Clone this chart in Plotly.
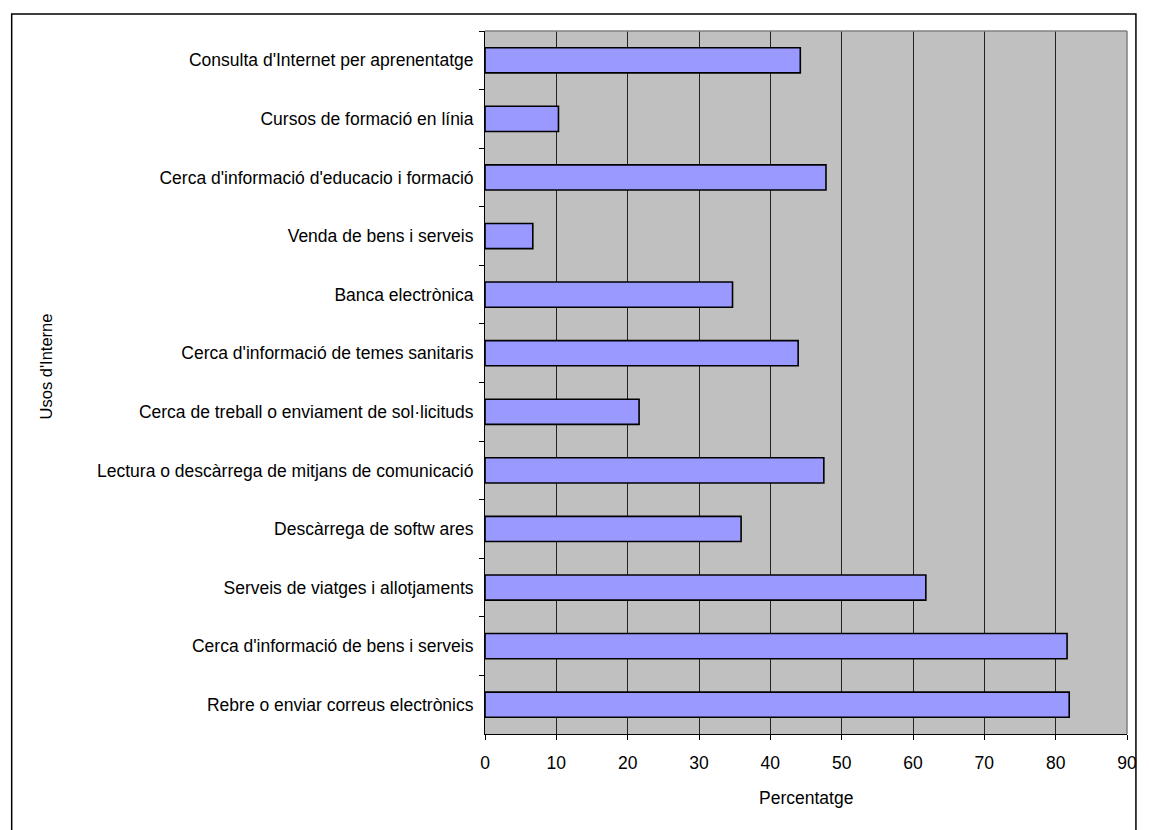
import plotly.graph_objects as go

# Usos d'Internet (percentatge), de dalt a baix
usos = [
    "Consulta d'Internet per aprenentatge",
    "Cursos de formació en línia",
    "Cerca d'informació d'educacio i formació",
    "Venda de bens i serveis",
    "Banca electrònica",
    "Cerca d'informació de temes sanitaris",
    "Cerca de treball o enviament de sol·licituds",
    "Lectura o descàrrega de mitjans de comunicació",
    "Descàrrega de softw ares",
    "Serveis de viatges i allotjaments",
    "Cerca d'informació de bens i serveis",
    "Rebre o enviar correus electrònics",
]
percentatge = [44.2, 10.3, 47.8, 6.7, 34.7, 43.9, 21.6, 47.5, 35.9, 61.8, 81.6, 81.9]
x_ticks = [0, 10, 20, 30, 40, 50, 60, 70, 80, 90]

W, H = 1149, 830
L, R, T, B = 485, 1132, 31, 734

FONT = "Liberation Sans, Arial, sans-serif"
FS = 17.5

fig = go.Figure(
    go.Bar(
        x=percentatge,
        y=usos,
        orientation="h",
        width=0.43,
        marker=dict(color="#9999FF", line=dict(color="#000000", width=1.6)),
        hoverinfo="x+y",
    )
)

def px_x(v):
    return (v - L) / (R - L)

def px_y(v):
    return (B - v) / (B - T)

fig.update_layout(
    width=W,
    height=H,
    margin=dict(l=L, r=W - R, t=T, b=H - B, pad=0),
    paper_bgcolor="white",
    plot_bgcolor="#C0C0C0",
    showlegend=False,
    font=dict(family=FONT, size=FS, color="black"),
    xaxis=dict(
        range=[0, 90],
        tickmode="array",
        tickvals=x_ticks,
        ticktext=[str(t) for t in x_ticks],
        showgrid=True,
        gridcolor="#222222",
        gridwidth=1,
        zeroline=False,
        showline=True,
        linecolor="black",
        linewidth=1,
        ticks="outside",
        ticklen=5,
        tickcolor="black",
        tickfont=dict(family=FONT, size=FS),
        ticklabelstandoff=8,
        fixedrange=True,
    ),
    yaxis=dict(
        autorange="reversed",
        categoryorder="array",
        categoryarray=usos,
        tickson="boundaries",
        ticks="outside",
        ticklen=5,
        tickcolor="black",
        showline=True,
        linecolor="black",
        linewidth=1,
        showgrid=False,
        tickfont=dict(family=FONT, size=FS),
        ticklabelstandoff=7,
        fixedrange=True,
    ),
    shapes=[
        # top and right edges of the plot area
        dict(type="line", xref="paper", yref="paper", x0=0, x1=1, y0=1, y1=1,
             line=dict(color="#808080", width=1.5)),
        dict(type="line", xref="paper", yref="paper", x0=1, x1=1, y0=0, y1=1,
             line=dict(color="#808080", width=1.5)),
        # outer chart frame
        dict(type="rect", xref="paper", yref="paper",
             x0=px_x(8), x1=px_x(1141), y0=px_y(834), y1=px_y(14),
             line=dict(color="black", width=1.5), fillcolor="rgba(0,0,0,0)",
             layer="above"),
    ],
    annotations=[
        dict(text="Percentatge", xref="paper", yref="paper",
             x=0.5, y=px_y(798), showarrow=False,
             xanchor="center", yanchor="middle",
             font=dict(family=FONT, size=FS)),
        dict(text="Usos d'Interne", xref="paper", yref="paper",
             x=px_x(43), y=px_y(366), showarrow=False, textangle=-90,
             xanchor="center", yanchor="middle",
             font=dict(family=FONT, size=16.5)),
    ],
)

fig.write_html("out.html")
